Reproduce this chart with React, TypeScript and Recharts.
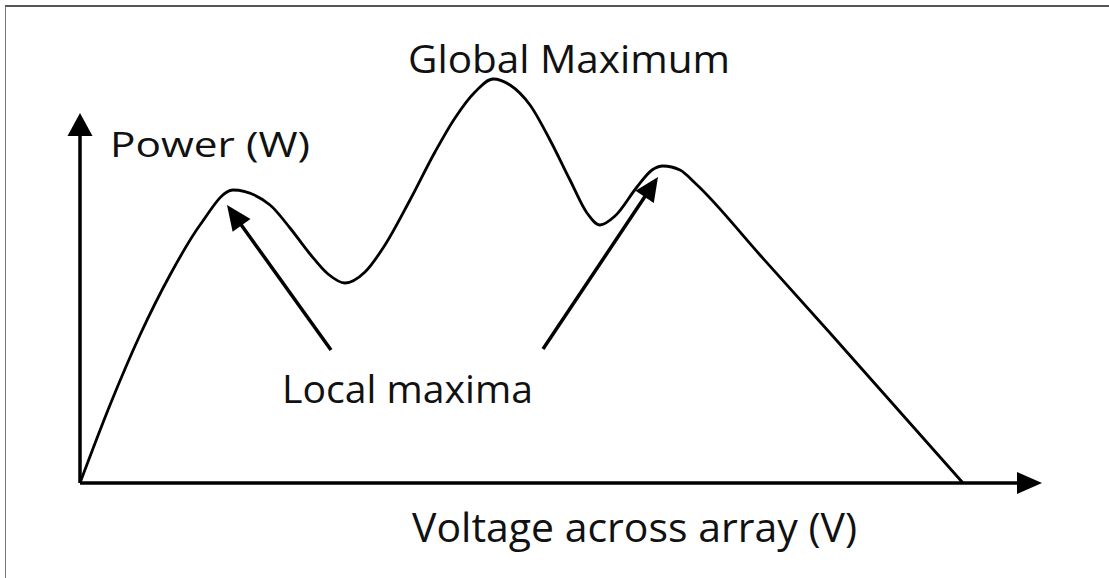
import { LineChart, Line, XAxis, YAxis, ReferenceLine } from "recharts";

// P-V curve of a partially shaded array (arbitrary units)
const voltage = [0, 3.0, 6.0, 9.0, 12.0, 15.3, 19.0, 21.0, 23.0, 24.8, 26.5, 28.5, 30.5, 33.0, 35.5, 37.5, 39.5, 41.3, 43.0, 45.0, 47.0, 49.0, 50.7, 52.0, 53.5, 55.7, 57.2, 58.3, 60.0, 61.5, 68.0, 75.0, 88.3];
const power = [0, 7.8, 14.8, 20.8, 25.8, 29.3, 27.8, 25.5, 22.9, 20.9, 20.0, 21.1, 23.8, 28.3, 33.1, 36.5, 39.1, 40.4, 39.8, 37.8, 34.3, 30.3, 27.0, 25.8, 26.7, 29.6, 31.3, 31.7, 31.3, 30.0, 22.8, 15.0, 0];

// axes and pointer arrows: [from, to] in data units
const yAxisArrow = [{ x: 0, y: 0 }, { x: 0, y: 37 }];
const xAxisArrow = [{ x: 0, y: 0 }, { x: 96.2, y: 0 }];
const leftPointer = [{ x: 25.1, y: 13.3 }, { x: 14.7, y: 27.8 }];
const rightPointer = [{ x: 46.3, y: 13.4 }, { x: 57.8, y: 30.6 }];

const labels = [
  { text: "Power (W)", x: 110, y: 157, w: 200, size: 35 },
  { text: "Global Maximum", x: 408, y: 73, w: 322, size: 39 },
  { text: "Local maxima", x: 282, y: 403, w: 251, size: 39 },
  { text: "Voltage across array (V)", x: 412, y: 542, w: 445, size: 41 },
];

const data = voltage.map((v, i) => ({ v, p: power[i] }));

const arrowShape = (len: number, half: number, width: number) => (props: any) => {
  const { x1, y1, x2, y2 } = props;
  const dx = x2 - x1;
  const dy = y2 - y1;
  const d = Math.sqrt(dx * dx + dy * dy) || 1;
  const ux = dx / d;
  const uy = dy / d;
  const bx = x2 - ux * len;
  const by = y2 - uy * len;
  const pts = `${x2},${y2} ${bx - uy * half},${by + ux * half} ${bx + uy * half},${by - ux * half}`;
  return (
    <g>
      <line x1={x1} y1={y1} x2={bx + ux * 2} y2={by + uy * 2} stroke="#000" strokeWidth={width} strokeLinecap="butt" />
      <polygon points={pts} fill="#000" />
    </g>
  );
};

export default function App() {
  return (
    <div style={{ position: "absolute", left: 0, top: 0, width: 1109, height: 578, background: "#fff", overflow: "hidden" }}>
      <div
        style={{
          position: "absolute",
          left: 5,
          top: 5,
          width: 1120,
          height: 571,
          borderTop: "2px solid #555",
          borderLeft: "1px solid #777",
          borderBottom: "1px solid #e4e4e4",
        }}
      />
      <div style={{ position: "absolute", left: 0, top: 0 }}>
        <LineChart width={1109} height={578} data={data} margin={{ top: 33, right: 59, bottom: 95, left: 80 }}>
          <XAxis type="number" dataKey="v" domain={[0, 97]} hide />
          <YAxis type="number" domain={[0, 45]} hide />
          <ReferenceLine segment={yAxisArrow} ifOverflow="visible" shape={arrowShape(23, 12.5, 3.5)} />
          <ReferenceLine segment={xAxisArrow} ifOverflow="visible" shape={arrowShape(25, 11, 3.5)} />
          <Line
            type="monotone"
            dataKey="p"
            stroke="#000"
            strokeWidth={2.8}
            dot={false}
            activeDot={false}
            isAnimationActive={false}
          />
          <ReferenceLine segment={leftPointer} ifOverflow="visible" shape={arrowShape(25, 11, 3.5)} />
          <ReferenceLine segment={rightPointer} ifOverflow="visible" shape={arrowShape(24, 11, 3.5)} />
        </LineChart>
      </div>
      <svg width={1109} height={578} style={{ position: "absolute", left: 0, top: 0, pointerEvents: "none" }}>
        {labels.map((l) => (
          <text
            key={l.text}
            x={l.x}
            y={l.y}
            textLength={l.w}
            lengthAdjust="spacingAndGlyphs"
            fontFamily="'Open Sans', sans-serif"
            fontSize={l.size}
            fill="#111"
          >
            {l.text}
          </text>
        ))}
      </svg>
    </div>
  );
}
